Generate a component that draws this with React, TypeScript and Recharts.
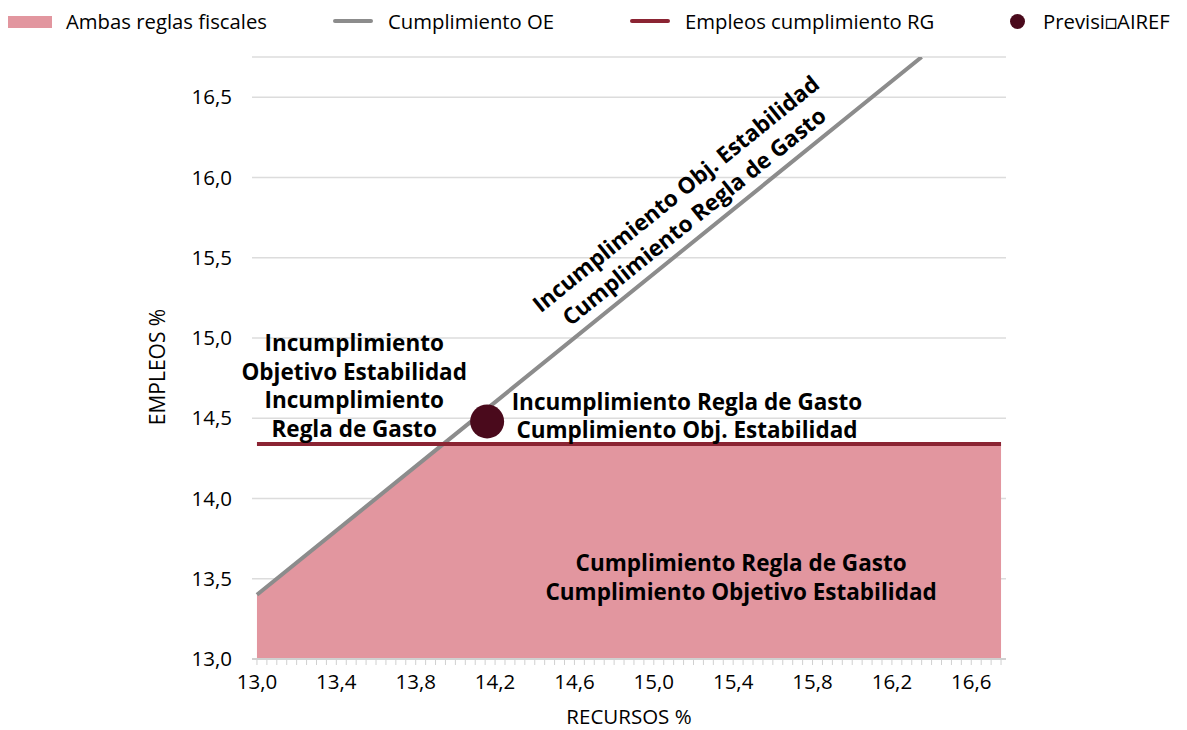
import React from 'react';
import {
    ComposedChart,
    Area,
    Line,
    Scatter,
    XAxis,
    YAxis,
    CartesianGrid,
    ReferenceDot
} from 'recharts';

// recursos (x) and the series read at those points
const recursos = [13.0, 13.94, 16.35, 16.75];
const cumplimientoOE = [13.4, 14.34, 16.75, null];
const empleosRG = [14.34, null, null, 14.34];
const ambasReglas = [13.4, 14.34, null, 14.34];
const previsionAIREF = [{ x: 14.16, y: 14.48 }];

const yTicks = [13, 13.5, 14, 14.5, 15, 15.5, 16, 16.5];
const xLabels = ['13,0', '13,4', '13,8', '14,2', '14,6', '15,0', '15,4', '15,8', '16,2', '16,6'];
const X_DOMAIN: [number, number] = [12.975, 16.775];
// one tick per 0.05 category, label on every 8th
const xTicks = Array.from({ length: 76 }, (_, i) => +(13 + i * 0.05).toFixed(2));

const notes = [
    { x: 13.49, y: 14.70, angle: 0, lh: 28.5, lines: ['Incumplimiento', 'Objetivo Estabilidad', 'Incumplimiento', 'Regla de Gasto'] },
    { x: 15.167, y: 14.513, angle: 0, lh: 28, lines: ['Incumplimiento Regla de Gasto', 'Cumplimiento Obj. Estabilidad'] },
    { x: 15.44, y: 13.507, angle: 0, lh: 28.5, lines: ['Cumplimiento Regla de Gasto', 'Cumplimiento Objetivo Estabilidad'] },
    { x: 15.157, y: 15.827, angle: -39, lh: 29, lines: ['Incumplimiento Obj. Estabilidad', 'Cumplimiento Regla de Gasto'] },
];

const FONT = '"Open Sans", Lato, sans-serif';
const PINK = '#e2969f';
const GREY = '#8c8c8c';
const RED = '#8b2433';
const DARK = '#4a0a1c';

const fmt = (v: number) => v.toFixed(1).replace('.', ',');

const rows = recursos.map((x, i) => ({
    x,
    oe: cumplimientoOE[i],
    rg: empleosRG[i],
    ambas: ambasReglas[i]
}));

const NoteText = ({ cx, cy, note }: any) => {
    const n = note.lines.length;
    return (
        <text
            transform={note.angle ? `rotate(${note.angle} ${cx} ${cy})` : undefined}
            textAnchor="middle"
            fontFamily={FONT}
            fontWeight={700}
            fontSize={22.5}
            fill="#000"
        >
            {note.lines.map((l: string, i: number) => (
                <tspan key={i} x={cx} y={cy + (i - (n - 1) / 2) * note.lh + 8}>{l}</tspan>
            ))}
        </text>
    );
};

const YTitle = (props: any) => {
    const { x, y, width, height } = props.viewBox;
    const cx = x + width - 95;
    const cy = y + height / 2 + 9;
    return (
        <text x={cx} y={cy} transform={`rotate(-90 ${cx} ${cy})`} textAnchor="middle" dominantBaseline="central"
            fontFamily={FONT} fontSize={21} fill="#000">EMPLEOS %</text>
    );
};

const XTitle = (props: any) => {
    const { x, y, width } = props.viewBox;
    return (
        <text x={x + width / 2} y={y + 57} textAnchor="middle" dominantBaseline="central"
            fontFamily={FONT} fontSize={20.5} fill="#000">RECURSOS %</text>
    );
};

const legendItems = [
    { label: 'Ambas reglas fiscales', kind: 'rect', color: PINK, left: 8, textLeft: 66 },
    { label: 'Cumplimiento OE', kind: 'line', color: GREY, left: 333, textLeft: 388 },
    { label: 'Empleos cumplimiento RG', kind: 'line', color: RED, left: 630, textLeft: 685 },
    { label: 'Previsi\u25A1AIREF', kind: 'dot', color: DARK, left: 1010, textLeft: 1043 },
];

const ChartLegend = () => (
    <div style={{ position: 'absolute', left: 0, top: 0, width: 1187, height: 44, fontFamily: FONT, fontSize: 20.3, color: '#000' }}>
        {legendItems.map((it) => (
            <React.Fragment key={it.label}>
                {it.kind === 'rect' && (
                    <div style={{ position: 'absolute', left: it.left, top: 16, width: 44, height: 12, background: it.color }} />
                )}
                {it.kind === 'line' && (
                    <div style={{ position: 'absolute', left: it.left, top: 19, width: 40, height: 4, borderRadius: 2, background: it.color }} />
                )}
                {it.kind === 'dot' && (
                    <div style={{ position: 'absolute', left: it.left, top: 14, width: 15, height: 15, borderRadius: '50%', background: it.color }} />
                )}
                <div style={{ position: 'absolute', left: it.textLeft, top: 8, lineHeight: '26px', whiteSpace: 'nowrap' }}>{it.label}</div>
            </React.Fragment>
        ))}
    </div>
);

export default function App() {
    return (
        <div style={{ position: 'absolute', left: 0, top: 0, width: 1187, height: 730, background: '#fff' }}>
            <ComposedChart
                width={1187}
                height={730}
                data={rows}
                margin={{ top: 57, right: 181, bottom: 0, left: 0 }}
            >
                <CartesianGrid vertical={false} stroke="#dcdcdc" strokeWidth={1.5} />
                <XAxis
                    dataKey="x"
                    type="number"
                    domain={X_DOMAIN}
                    allowDataOverflow
                    ticks={xTicks}
                    interval={0}
                    tickFormatter={(v: number, i: number) => (i % 8 === 0 ? xLabels[i / 8] : '')}
                    height={71}
                    tickSize={6}
                    tickMargin={9}
                    axisLine={{ stroke: '#d0d0d0', strokeWidth: 2 }}
                    tickLine={{ stroke: '#d0d0d0' }}
                    tick={{ fill: '#000', fontSize: 20.5, fontFamily: FONT }}
                    label={(p: any) => <XTitle {...p} />}
                />
                <YAxis
                    type="number"
                    domain={[13, 16.75]}
                    allowDataOverflow
                    ticks={yTicks}
                    interval={0}
                    width={252}
                    axisLine={false}
                    tickLine={false}
                    tickSize={0}
                    tickMargin={20}
                    tickFormatter={fmt}
                    tick={{ fill: '#000', fontSize: 20.5, fontFamily: FONT }}
                    label={(p: any) => <YTitle {...p} />}
                />
                <Area
                    type="linear"
                    dataKey="ambas"
                    fill={PINK}
                    fillOpacity={1}
                    stroke="none"
                    connectNulls
                    isAnimationActive={false}
                    activeDot={false}
                />
                <Line
                    type="linear"
                    dataKey="oe"
                    stroke={GREY}
                    strokeWidth={4}
                    dot={false}
                    activeDot={false}
                    connectNulls
                    isAnimationActive={false}
                />
                <Line
                    type="linear"
                    dataKey="rg"
                    stroke={RED}
                    strokeWidth={4}
                    dot={false}
                    activeDot={false}
                    connectNulls
                    isAnimationActive={false}
                />
                <Scatter
                    data={previsionAIREF}
                    dataKey="y"
                    isAnimationActive={false}
                    shape={(p: any) => <circle cx={p.cx} cy={p.cy} r={17} fill={DARK} />}
                />
                {notes.map((note, i) => (
                    <ReferenceDot
                        key={i}
                        x={note.x}
                        y={note.y}
                        r={0}
                        shape={(p: any) => <NoteText cx={p.cx} cy={p.cy} note={note} />}
                    />
                ))}
            </ComposedChart>
            <ChartLegend />
        </div>
    );
}
